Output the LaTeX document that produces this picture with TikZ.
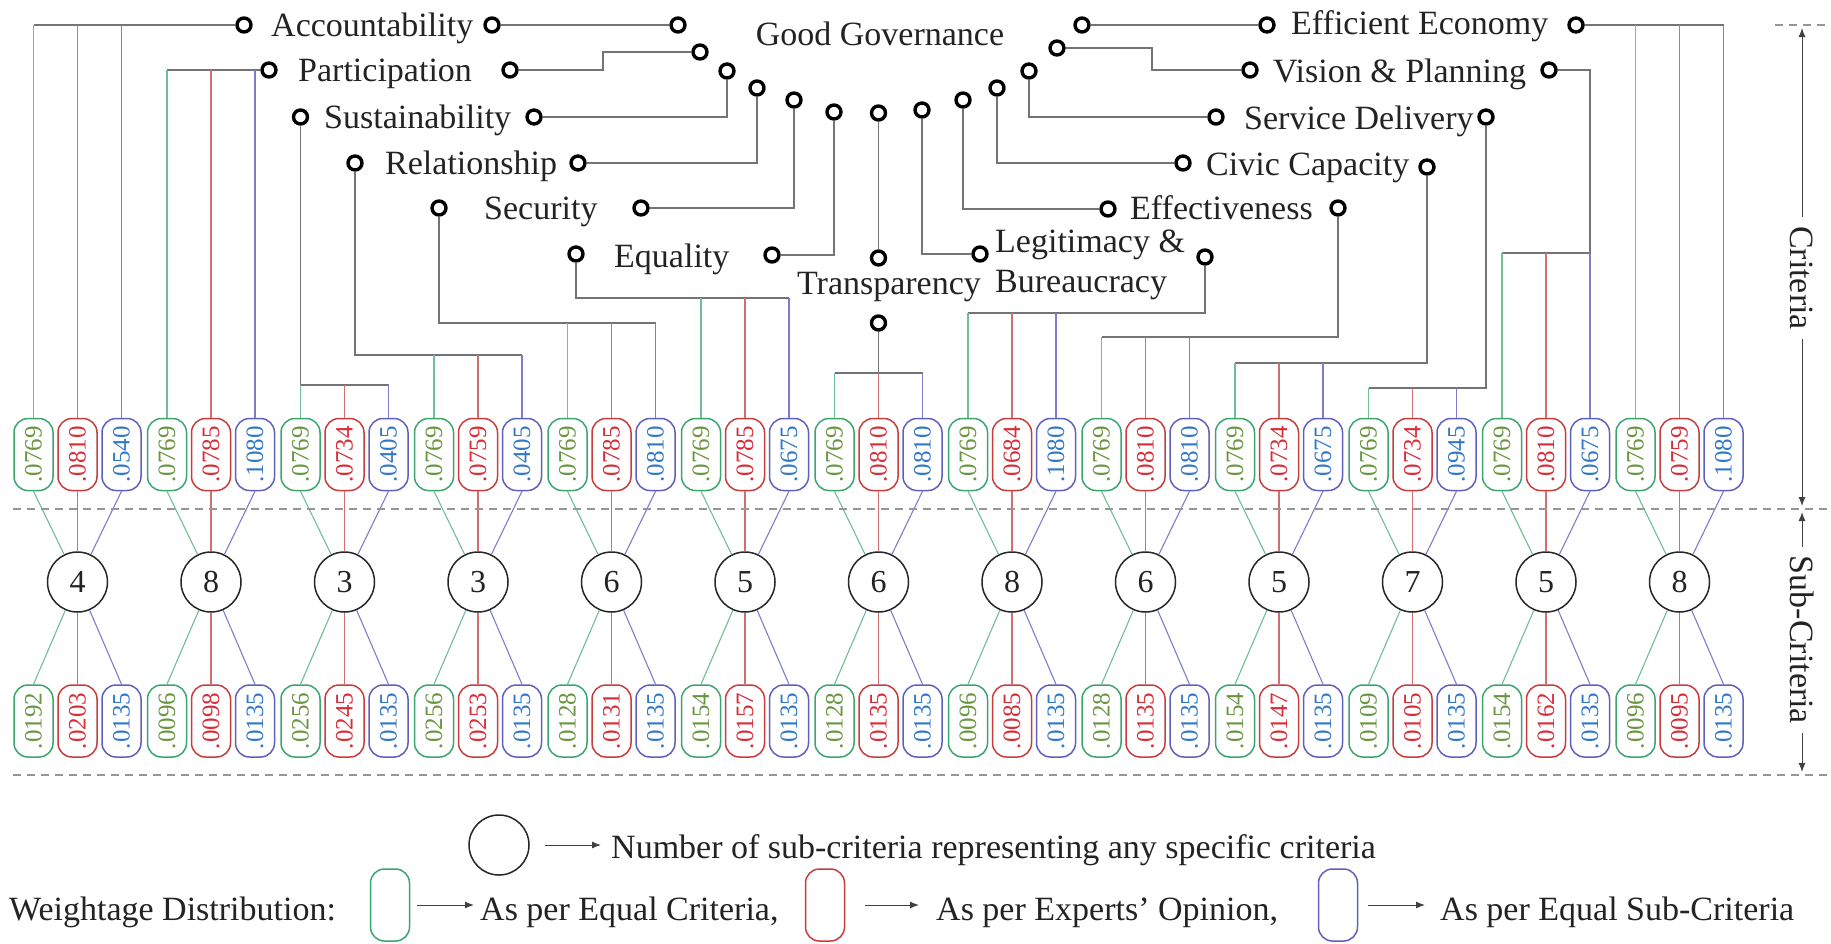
\documentclass[tikz,border=0pt]{standalone}
\usepackage{fontspec}
\setmainfont{Liberation Serif}
\usetikzlibrary{arrows.meta,calc}
\definecolor{txt}{RGB}{35,35,35}
\definecolor{glc}{RGB}{110,190,150}
\definecolor{rlc}{RGB}{210,110,110}
\definecolor{blc}{RGB}{125,125,205}
\definecolor{trc}{RGB}{115,115,120}
\definecolor{pgb}{RGB}{60,165,110}
\definecolor{prb}{RGB}{200,60,60}
\definecolor{pbb}{RGB}{95,95,190}
\definecolor{pgt}{RGB}{105,150,65}
\definecolor{prt}{RGB}{215,45,55}
\definecolor{pbt}{RGB}{50,120,200}
\definecolor{dsh}{RGB}{150,150,150}
\begin{document}
\begin{tikzpicture}[x=1pt,y=-1pt,
  lab/.style={font=\fontsize{34}{40}\selectfont, text=txt, inner sep=0pt},
  ring/.style={circle, draw=black, line width=3.4pt, minimum size=14pt, inner sep=0pt},
  numc/.style={circle, draw=black!85, line width=1.5pt, minimum size=60pt, inner sep=0pt, font=\fontsize{32}{32}\selectfont, text=txt},
  pill/.style={rectangle, rounded corners=14pt, minimum width=72pt, minimum height=39pt, inner sep=0pt, line width=1.5pt, rotate=90, font=\fontsize{25}{25}\selectfont},
  pg/.style={pill, draw=pgb, text=pgt},
  pr/.style={pill, draw=prb, text=prt},
  pb/.style={pill, draw=pbb, text=pbt},
  gl/.style={draw=glc, line width=1.1pt},
  rl/.style={draw=rlc, line width=1.1pt},
  bl/.style={draw=blc, line width=1.1pt},
  trunk/.style={draw=trc, line width=1.3pt},
  dashline/.style={draw=dsh, line width=1.2pt, dash pattern=on 8pt off 6pt},
  arr/.style={draw=black!75, line width=1pt, -{Latex[length=9pt,width=7pt]}},
]
\useasboundingbox (0,0) rectangle (1831,943);

% ---------------- pills, circles ----------------
\foreach \g/\a/\b/\cc/\nn/\d/\e/\f [evaluate=\g as \xr using 77.5+133.5*\g] in {
 0/.0769/.0810/.0540/4/.0192/.0203/.0135,
 1/.0769/.0785/.1080/8/.0096/.0098/.0135,
 2/.0769/.0734/.0405/3/.0256/.0245/.0135,
 3/.0769/.0759/.0405/3/.0256/.0253/.0135,
 4/.0769/.0785/.0810/6/.0128/.0131/.0135,
 5/.0769/.0785/.0675/5/.0154/.0157/.0135,
 6/.0769/.0810/.0810/6/.0128/.0135/.0135,
 7/.0769/.0684/.1080/8/.0096/.0085/.0135,
 8/.0769/.0810/.0810/6/.0128/.0135/.0135,
 9/.0769/.0734/.0675/5/.0154/.0147/.0135,
 10/.0769/.0734/.0945/7/.0109/.0105/.0135,
 11/.0769/.0810/.0675/5/.0154/.0162/.0135,
 12/.0769/.0759/.1080/8/.0096/.0095/.0135}{
  \node[pg] (tG\g) at (\xr-44,454.5) {\a};
  \node[pr] (tR\g) at (\xr,454.5) {\b};
  \node[pb] (tB\g) at (\xr+44,454.5) {\cc};
  \node[numc] (n\g) at (\xr,582) {\nn};
  \node[pg] (bG\g) at (\xr-44,721) {\d};
  \node[pr] (bR\g) at (\xr,721) {\e};
  \node[pb] (bB\g) at (\xr+44,721) {\f};
  \draw[gl] (tG\g.west) -- (n\g);
  \draw[rl] (tR\g.west) -- (n\g);
  \draw[bl] (tB\g.west) -- (n\g);
  \draw[gl] (n\g) -- (bG\g.east);
  \draw[rl] (n\g) -- (bR\g.east);
  \draw[bl] (n\g) -- (bB\g.east);
}

% ---------------- arc of rings ----------------
\foreach \i/\x/\y in {1/678/25,2/700/52,3/727/71,4/757/88,5/794/100,6/834/112,7/878.5/113,8/922/110,9/963/100,10/997/88,11/1029/71,12/1057/48,13/1082/25}
  \node[ring] (a\i) at (\x,\y) {};
\node[lab, anchor=base] (gg) at (880,45.5) {Good Governance};

% ---------------- criteria labels ----------------
\node[ring] (accL) at (244,25) {};
\node[lab, anchor=base west] (accT) at (271,36) {Accountability};
\node[ring] (accR) at (492,25) {};
\node[ring] (parL) at (269,70) {};
\node[lab, anchor=base west] (parT) at (298,81) {Participation};
\node[ring] (parR) at (510,70) {};
\node[ring] (susL) at (300.5,117) {};
\node[lab, anchor=base west] (susT) at (324,128) {Sustainability};
\node[ring] (susR) at (534,117) {};
\node[ring] (relL) at (355,163) {};
\node[lab, anchor=base west] (relT) at (385,174.5) {Relationship};
\node[ring] (relR) at (578,163) {};
\node[ring] (secL) at (439,208) {};
\node[lab, anchor=base west] (secT) at (484,219.5) {Security};
\node[ring] (secR) at (641,208) {};
\node[ring] (eqL) at (576,254) {};
\node[lab, anchor=base west] (eqT) at (614,267) {Equality};
\node[ring] (eqR) at (772,255) {};
\node[ring] (tr1) at (878.5,258) {};
\node[lab, anchor=base] (trT) at (889,294.5) {Transparency};
\node[ring] (tr2) at (878.5,323) {};
\node[ring] (legL) at (980,254) {};
\node[lab, anchor=base west] (legT1) at (995,252) {Legitimacy \&};
\node[lab, anchor=base west] (legT2) at (995,292.5) {Bureaucracy};
\node[ring] (legR) at (1205,257) {};
\node[ring] (effL) at (1108,209) {};
\node[lab, anchor=base west] (effT) at (1130,219.5) {Effectiveness};
\node[ring] (effR) at (1338,208) {};
\node[ring] (civL) at (1183,163) {};
\node[lab, anchor=base west] (civT) at (1206,175.5) {Civic Capacity};
\node[ring] (civR) at (1427,167) {};
\node[ring] (serL) at (1216,117) {};
\node[lab, anchor=base west] (serT) at (1244,129.5) {Service Delivery};
\node[ring] (serR) at (1486,117) {};
\node[ring] (visL) at (1250,70) {};
\node[lab, anchor=base west] (visT) at (1273,82.5) {Vision \& Planning};
\node[ring] (visR) at (1549,70) {};
\node[ring] (ecoL) at (1267,25) {};
\node[lab, anchor=base west] (ecoT) at (1291,34.5) {Efficient Economy};
\node[ring] (ecoR) at (1576,25) {};

% ---------------- links to the arc ----------------
\coordinate (k2) at (603,60);
\coordinate (k12) at (1152,60);
\draw[trunk] (accR) -- (a1);
\draw[trunk] (parR) -| (k2) |- (a2);
\draw[trunk] (susR) -| (a3);
\draw[trunk] (relR) -| (a4);
\draw[trunk] (secR) -| (a5);
\draw[trunk] (eqR) -| (a6);
\draw[trunk] (a7) -- (tr1);
\draw[trunk] (a8) |- (legL);
\draw[trunk] (a9) |- (effL);
\draw[trunk] (a10) |- (civL);
\draw[trunk] (a11) |- (serL);
\draw[trunk] (a12) -| (k12) |- (visL);
\draw[trunk] (a13) -- (ecoL);

% ---------------- drops to the pills ----------------
\coordinate (h2) at (300.5,385);
\coordinate (h3) at (355,355);
\coordinate (h4) at (439,323);
\coordinate (h5) at (576,298);
\coordinate (h6) at (878.5,373);
\coordinate (h7) at (1205,313);
\coordinate (h8) at (1338,337);
\coordinate (h9) at (1427,363);
\coordinate (h10) at (1486,388);
\coordinate (h11) at (1590,253);

\draw[trunk] (accL) -- (accL -| tG0.east);
\draw[trunk] (parL) -- (parL -| tG1.east);
\draw[trunk] (susL) -- (h2) -- (h2 -| tB2.east);
\draw[trunk] (relL) -- (h3) -- (h3 -| tB3.east);
\draw[trunk] (secL) -- (h4) -- (h4 -| tB4.east);
\draw[trunk] (eqL) -- (h5) -- (h5 -| tB5.east);
\draw[trunk] (tr2) -- (h6);
\draw[trunk] (h6 -| tG6.east) -- (h6 -| tB6.east);
\draw[trunk] (legR) -- (h7) -- (h7 -| tG7.east);
\draw[trunk] (effR) -- (h8) -- (h8 -| tG8.east);
\draw[trunk] (civR) -- (h9) -- (h9 -| tG9.east);
\draw[trunk] (serR) -- (h10) -- (h10 -| tG10.east);
\draw[trunk] (visR) -- (visR -| tB11.east) -- (h11) -- (h11 -| tG11.east);
\draw[trunk] (ecoR) -- (ecoR -| tB12.east);

\foreach \k/\s in {G/gl,R/rl,B/bl}{
  \draw[\s] (accL -| t\k0.east) -- (t\k0.east);
  \draw[\s] (parL -| t\k1.east) -- (t\k1.east);
  \draw[\s] (ecoR -| t\k12.east) -- (t\k12.east);
  \foreach \g in {2,...,11}
    \draw[\s] (h\g -| t\k\g.east) -- (t\k\g.east);
}

% ---------------- dashed separators and side arrows ----------------
\coordinate (d0a) at (1775,25); \coordinate (d0b) at (1831,25);
\coordinate (d1a) at (13,509); \coordinate (d1b) at (1831,509);
\coordinate (d2a) at (13,775); \coordinate (d2b) at (1831,775);
\draw[dashline] (d0a) -- (d0b);
\draw[dashline] (d1a) -- (d1b);
\draw[dashline] (d2a) -- (d2b);

\node[lab, rotate=-90, inner sep=9pt] (crit) at (1802,278) {Criteria};
\coordinate (ct) at (1802,28); \coordinate (cb) at (1802,506);
\draw[arr] (crit.west) -- (ct);
\draw[arr] (crit.east) -- (cb);
\node[lab, rotate=-90, inner sep=9pt] (subc) at (1802,640) {Sub-Criteria};
\coordinate (st) at (1802,512); \coordinate (sb) at (1802,772);
\draw[arr] (subc.west) -- (st);
\draw[arr] (subc.east) -- (sb);

% ---------------- legend ----------------
\node[numc] (lc) at (499,845) {};
\node[lab, anchor=base west] (lt1) at (611,858) {Number of sub-criteria representing any specific criteria};
\draw[arr] ([xshift=15pt]lc.east) -- ($(lc.east -| lt1.west)+(-10,0)$);

\node[lab, anchor=base west] (wd) at (9,920) {Weightage Distribution:};
\node[pg] (lgG) at (390,905) {};
\node[lab, anchor=base west] (lt2) at (480,920) {As per Equal Criteria,};
\node[pr] (lgR) at (825,905) {};
\node[lab, anchor=base west] (lt3) at (936,920) {As per Experts’ Opinion,};
\node[pb] (lgB) at (1338,905) {};
\node[lab, anchor=base west] (lt4) at (1440,920) {As per Equal Sub-Criteria};
\draw[arr] ([xshift=7pt]lgG.south) -- ($(lgG.south -| lt2.west)+(-6,0)$);
\draw[arr] ([xshift=20pt]lgR.south) -- ($(lgR.south -| lt3.west)+(-17,0)$);
\draw[arr] ([xshift=10pt]lgB.south) -- ($(lgB.south -| lt4.west)+(-15,0)$);
\end{tikzpicture}
\end{document}
